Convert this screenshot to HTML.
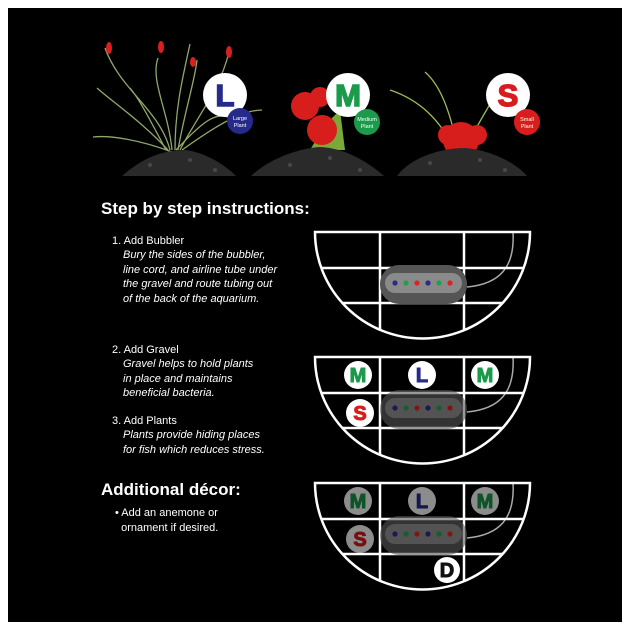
<!DOCTYPE html>
<html><head><meta charset="utf-8"><style>
html,body{margin:0;padding:0;background:#fff}
.wrap{position:relative;width:630px;height:630px;background:#fff}
svg{position:absolute;left:0;top:0}
.t{position:absolute;color:#fff;font-family:"Liberation Sans",sans-serif;white-space:nowrap}
.h{font-weight:bold;font-size:17px}
.s{font-size:11px;line-height:14.5px}
.i{font-style:italic}
</style></head><body><div class="wrap">
<svg width="630" height="630" viewBox="0 0 630 630">
<defs>
<clipPath id="c1"><path d="M315,0 A107,106 0 0 0 530,0 Z"/></clipPath>
<g id="grid">
 <g clip-path="url(#c1)" stroke="#fff" stroke-width="2.5" fill="none">
  <line x1="380" y1="0" x2="380" y2="120"/><line x1="464" y1="0" x2="464" y2="120"/>
  <line x1="300" y1="36" x2="540" y2="36"/><line x1="300" y1="71" x2="540" y2="71"/>
 </g>
 <path d="M315,0 A107,106 0 0 0 530,0 Z" stroke="#fff" stroke-width="2.5" fill="none"/>
</g>
<g id="tube"><path d="M467,55 C500,52 515,35 513,0" stroke="#aaa" stroke-width="1.5" fill="none"/></g>
<g id="bub">
 <rect x="380" y="33" width="87" height="39" rx="19" fill="#555"/>
 <rect x="385" y="41" width="77" height="20" rx="10" fill="#8a8a8a"/>
 <circle cx="395" cy="51" r="2.6" fill="#2b2b8a"/><circle cx="406" cy="51" r="2.6" fill="#1fa04a"/>
 <circle cx="417" cy="51" r="2.6" fill="#d22"/><circle cx="428" cy="51" r="2.6" fill="#2b2b8a"/>
 <circle cx="439" cy="51" r="2.6" fill="#1fa04a"/><circle cx="450" cy="51" r="2.6" fill="#d22"/>
</g>
</defs>
<rect x="8" y="8" width="614" height="614" fill="#000"/>

<g stroke="#8fa86a" stroke-width="1.3" fill="none">
 <path d="M170,150 C160,110 120,90 105,48"/><path d="M172,150 C168,110 150,80 158,58"/>
 <path d="M175,150 C175,110 182,80 190,44"/><path d="M178,150 C185,110 195,80 197,60"/>
 <path d="M180,150 C195,120 220,90 229,52"/><path d="M168,150 C140,120 110,100 97,88"/>
 <path d="M172,152 C140,140 110,135 93,137"/><path d="M182,150 C210,130 240,110 262,110"/>
 <path d="M176,150 C200,125 215,110 230,118"/><path d="M166,150 C150,120 140,100 130,88"/>
</g>
<g fill="#d82020"><ellipse cx="109" cy="48" rx="3" ry="6"/><ellipse cx="161" cy="47" rx="3" ry="6"/><ellipse cx="193" cy="62" rx="3" ry="5"/><ellipse cx="229" cy="52" rx="3" ry="6"/></g>
<g stroke="#9bbb55" stroke-width="1.3" fill="none">
 <path d="M455,150 C440,120 420,100 390,90"/><path d="M458,150 C450,110 440,85 425,72"/><path d="M470,140 C480,120 490,105 495,95"/>
</g>
<path d="M310,150 L325,125 L340,110 L345,150Z" fill="#7aa83a"/>
<g fill="#d81d1d">
 <circle cx="305" cy="106" r="14"/><circle cx="320" cy="97" r="10"/><circle cx="322" cy="130" r="15"/>
 <circle cx="461" cy="140" r="18"/><circle cx="448" cy="135" r="10"/><circle cx="477" cy="135" r="10"/>
</g>
<g fill="#2a2a2a">
 <path d="M122,176 C140,160 160,150 185,150 C205,152 225,165 236,176 Z"/>
 <path d="M251,176 C270,158 300,148 320,147 C345,148 368,162 384,176 Z"/>
 <path d="M397,176 C410,158 440,148 465,148 C490,150 515,162 527,176 Z"/>
</g>
<g fill="#555" opacity="0.7">
 <circle cx="150" cy="165" r="2"/><circle cx="190" cy="160" r="2"/><circle cx="215" cy="170" r="2"/><circle cx="290" cy="165" r="2"/><circle cx="330" cy="158" r="2"/><circle cx="360" cy="170" r="2"/><circle cx="430" cy="163" r="2"/><circle cx="480" cy="160" r="2"/><circle cx="505" cy="170" r="2"/>
</g>
<g font-family="Liberation Sans,sans-serif" font-weight="bold" text-anchor="middle" stroke-width="1.5">
 <circle cx="225" cy="95" r="22" fill="#fff"/><text x="225" y="106" font-size="31" fill="#262a8a" stroke="#262a8a">L</text>
 <circle cx="240" cy="121" r="13" fill="#262a8a"/>
 <circle cx="348" cy="95" r="22" fill="#fff"/><text x="348" y="106" font-size="31" fill="#1a9a4a" stroke="#1a9a4a">M</text>
 <circle cx="367" cy="122" r="13" fill="#1a9a4a"/>
 <circle cx="508" cy="95" r="22" fill="#fff"/><text x="508" y="106" font-size="31" fill="#d81d1d" stroke="#d81d1d">S</text>
 <circle cx="527" cy="122" r="13" fill="#d81d1d"/>
</g>
<g font-family="Liberation Sans,sans-serif" font-size="5.5" fill="#fff" text-anchor="middle">
 <text x="240" y="120">Large</text><text x="240" y="127">Plant</text>
 <text x="367" y="121">Medium</text><text x="367" y="128">Plant</text>
 <text x="527" y="121">Small</text><text x="527" y="128">Plant</text>
</g>

<g transform="translate(0,232)"><use href="#tube"/><use href="#grid"/><use href="#bub"/></g>
<g transform="translate(0,357)"><use href="#tube"/><use href="#grid"/><g opacity="0.6"><use href="#bub"/></g></g>
<g font-family="Liberation Sans,sans-serif" font-weight="bold" text-anchor="middle" font-size="20" stroke-width="1">
 <circle cx="358" cy="375" r="14" fill="#fff"/><text x="358" y="382" fill="#1a9a4a" stroke="#1a9a4a">M</text>
 <circle cx="422" cy="375" r="14" fill="#fff"/><text x="422" y="382" fill="#262a8a" stroke="#262a8a">L</text>
 <circle cx="485" cy="375" r="14" fill="#fff"/><text x="485" y="382" fill="#1a9a4a" stroke="#1a9a4a">M</text>
 <circle cx="360" cy="413" r="14" fill="#fff"/><text x="360" y="420" fill="#d81d1d" stroke="#d81d1d">S</text>
</g>
<g transform="translate(0,483)"><use href="#tube"/><use href="#grid"/><g opacity="0.6"><use href="#bub"/></g></g>
<g font-family="Liberation Sans,sans-serif" font-weight="bold" text-anchor="middle" font-size="20" opacity="0.55" stroke-width="1">
 <circle cx="358" cy="501" r="14" fill="#fff"/><text x="358" y="508" fill="#1a9a4a" stroke="#1a9a4a">M</text>
 <circle cx="422" cy="501" r="14" fill="#fff"/><text x="422" y="508" fill="#262a8a" stroke="#262a8a">L</text>
 <circle cx="485" cy="501" r="14" fill="#fff"/><text x="485" y="508" fill="#1a9a4a" stroke="#1a9a4a">M</text>
 <circle cx="360" cy="539" r="14" fill="#fff"/><text x="360" y="546" fill="#d81d1d" stroke="#d81d1d">S</text>
</g>
<g font-family="Liberation Sans,sans-serif" font-weight="bold" text-anchor="middle" font-size="20">
 <circle cx="447" cy="570" r="13" fill="#fff"/><text x="447" y="577" fill="#111" stroke="#111" stroke-width="1">D</text>
</g>
</svg>

<div class="t h" style="left:101px;top:199px">Step by step instructions:</div>
<div class="t s" style="left:112px;top:234px">1. Add Bubbler</div>
<div class="t s i" style="left:123px;top:248px">Bury the sides of the bubbler,<br>line cord, and airline tube under<br>the gravel and route tubing out<br>of the back of the aquarium.</div>
<div class="t s" style="left:112px;top:343px">2. Add Gravel</div>
<div class="t s i" style="left:123px;top:357px">Gravel helps to hold plants<br>in place and maintains<br>beneficial bacteria.</div>
<div class="t s" style="left:112px;top:414px">3. Add Plants</div>
<div class="t s i" style="left:123px;top:428px">Plants provide hiding places<br>for fish which reduces stress.</div>
<div class="t h" style="left:101px;top:480px">Additional décor:</div>
<div class="t s" style="left:115px;top:506px">• Add an anemone or<br>&nbsp;&nbsp;ornament if desired.</div>
</div></body></html>
